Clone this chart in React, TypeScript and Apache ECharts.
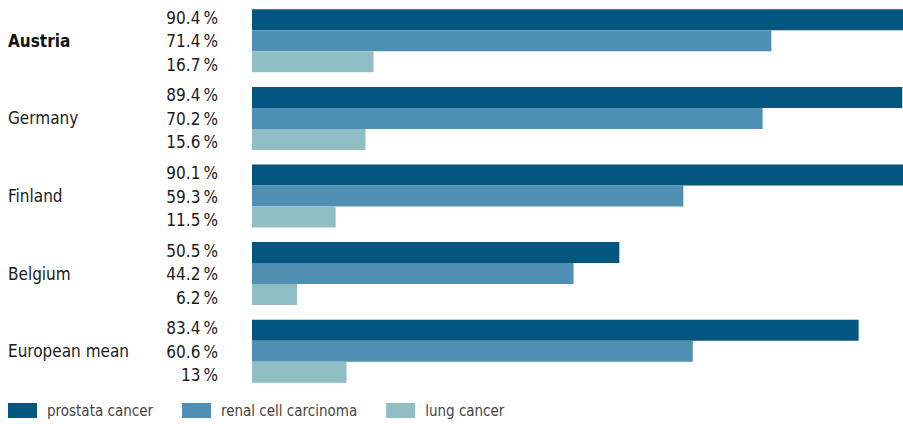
import React, { useEffect, useRef } from "react";
import * as echarts from "echarts";

const categories = ["Austria", "Germany", "Finland", "Belgium", "European mean"];
const seriesNames = ["prostata cancer", "renal cell carcinoma", "lung cancer"];
const prostata = [90.4, 89.4, 90.1, 50.5, 83.4];
const renal = [71.4, 70.2, 59.3, 44.2, 60.6];
const lung = [16.7, 15.6, 11.5, 6.2, 13];
const colors = ["#02567f", "#4f8fb3", "#8fbfc4"];

const FONT = "'DejaVu Sans Condensed', 'Liberation Sans Narrow', sans-serif";

export default function App() {
  const ref = useRef<HTMLDivElement>(null);
  useEffect(() => {
    if (!ref.current) return;
    const chart = echarts.init(ref.current, undefined, { renderer: "svg" });
    const mk = (name: string, data: number[], color: string, dy: number) => ({
      name,
      type: "bar",
      data,
      barWidth: 21,
      barGap: "0%",
      itemStyle: { color },
      label: {
        show: true,
        position: [-34, "50%"],
        offset: [0, dy],
        align: "right",
        verticalAlign: "middle",
        formatter: (p: any) => `${p.value}\u2009%`,
        fontFamily: FONT,
        fontSize: 17,
        color: "#1a1a1a",
      },
    });
    chart.setOption({
      animation: false,
      textStyle: { fontFamily: FONT },
      grid: { left: 252, top: 2, right: 0, height: 388, containLabel: false },
      legend: {
        left: 8,
        top: 403,
        padding: 0,
        itemWidth: 29,
        itemHeight: 15,
        itemGap: 29,
        icon: "rect",
        textStyle: { fontFamily: FONT, fontSize: 15, color: "#444", padding: [0, 0, 0, 5] },
        data: seriesNames,
      },
      xAxis: {
        type: "value",
        min: 0,
        max: 89.5,
        show: false,
      },
      yAxis: {
        type: "category",
        data: categories,
        inverse: true,
        axisLine: { show: false },
        axisTick: { show: false },
        axisLabel: {
          align: "left",
          margin: 244,
          fontFamily: FONT,
          fontSize: 17,
          color: "#1a1a1a",
          formatter: (v: string) => (v === "Austria" ? `{b|${v}}` : v),
          rich: { b: { fontWeight: "bold", fontFamily: FONT, fontSize: 17, color: "#111" } },
        },
      },
      series: [
        mk(seriesNames[0], prostata, colors[0], -2),
        mk(seriesNames[1], renal, colors[1], 0.5),
        mk(seriesNames[2], lung, colors[2], 3),
      ],
    });
    return () => chart.dispose();
  }, []);
  return (
    <div
      ref={ref}
      style={{ position: "absolute", left: 0, top: 0, width: 903, height: 424, background: "#fff" }}
    />
  );
}
